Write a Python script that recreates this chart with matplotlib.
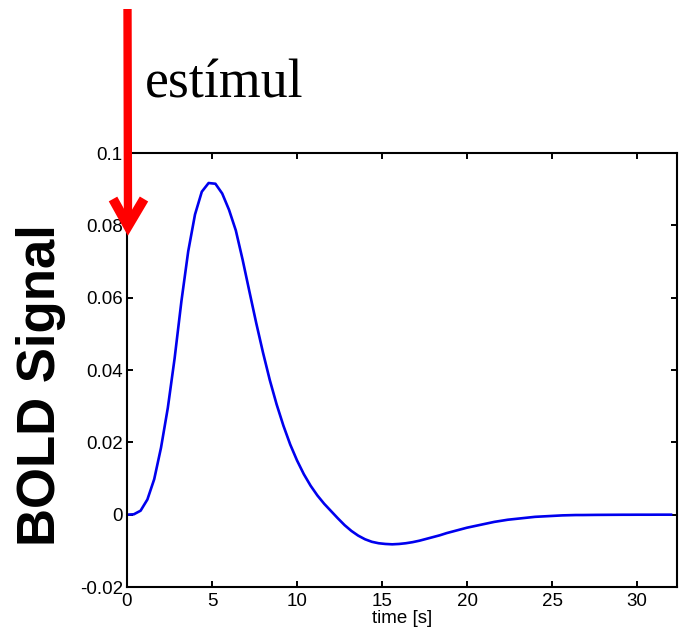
import numpy as np
import matplotlib
matplotlib.use("Agg")
import matplotlib.pyplot as plt

# Haemodynamic response sampled every 0.4 s (0 .. 32 s)
dt = 0.4
bold = [
    0.0000, 0.0001, 0.0011, 0.0042, 0.0098, 0.0185, 0.0295, 0.0432, 0.0590, 0.0728,
    0.0830, 0.0893, 0.0917, 0.0915, 0.0888, 0.0843, 0.0786, 0.0705, 0.0617, 0.0530,
    0.0448, 0.0372, 0.0305, 0.0246, 0.0194, 0.0150, 0.0112, 0.0080, 0.0053, 0.0030,
    0.0010, -0.0010, -0.0029, -0.0045, -0.0058, -0.0068, -0.0075, -0.0079, -0.0081, -0.0082,
    -0.0081, -0.0079, -0.0076, -0.0072, -0.0067, -0.0062, -0.0057, -0.0051, -0.0046, -0.0041,
    -0.0036, -0.0032, -0.0028, -0.0024, -0.0020, -0.0017, -0.0014, -0.0012, -0.0010, -0.0008,
    -0.0006, -0.0005, -0.0004, -0.0003, -0.0002, -0.00015, -0.0001, -0.0001, -0.00008, -0.00006,
    -0.00005, -0.00004, -0.00003, -0.00002, -0.00002, -0.00001, -0.00001, -0.00001, 0.0, 0.0,
    0.0,
]
time = np.arange(len(bold)) * dt

xticks = [0, 5, 10, 15, 20, 25, 30]
yticks = [-0.02, 0, 0.02, 0.04, 0.06, 0.08, 0.1]
ytick_labels = ["-0.02", "0", "0.02", "0.04", "0.06", "0.08", "0.1"]

W, H = 683, 634
fig = plt.figure(figsize=(W / 100, H / 100), dpi=100)
fig.patch.set_facecolor("white")

sans = ["Liberation Sans", "DejaVu Sans"]

ax = fig.add_axes([127 / W, 1 - 587 / H, (677 - 127) / W, (587 - 153) / H])
ax.plot(time, bold, color="#0000ee", lw=1.9)
ax.set_xlim(0, 32.35)
ax.set_ylim(-0.02, 0.1)
ax.set_xticks(xticks)
ax.set_xticklabels([str(t) for t in xticks], fontfamily=sans, fontsize=13.5)
ax.set_yticks(yticks)
ax.set_yticklabels(ytick_labels, fontfamily=sans, fontsize=13.5)
ax.tick_params(direction="in", length=4, width=1.4, top=True, right=True,
               color="black")
ax.tick_params(axis="x", pad=4.5)
ax.tick_params(axis="y", pad=3)
for s in ax.spines.values():
    s.set_linewidth(1.5)
    s.set_color("black")
ax.set_xlabel("time [s]", fontfamily=sans, fontsize=13.5, labelpad=0)

fig.text(41 / W, 1 - 385 / H, "BOLD Signal", rotation=90, ha="center", va="center",
         fontfamily=sans, fontweight="bold", fontsize=38)

fig.text(145 / W, 1 - 97 / H, "estímul", ha="left", va="baseline",
         fontfamily=["Liberation Serif", "DejaVu Serif"], fontsize=38.7)

# Stimulus arrow drawn on a pixel-space overlay
ov = fig.add_axes([0, 0, 1, 1], facecolor="none")
ov.set_xlim(0, W)
ov.set_ylim(H, 0)
ov.axis("off")
ov.plot([127.5, 128], [9, 222], color="#ff0000", lw=6, solid_capstyle="butt")
ov.plot([113, 128, 144], [199, 226, 199], color="#ff0000", lw=7,
        solid_capstyle="butt", solid_joinstyle="miter")

fig.savefig("out.png", dpi=100)
